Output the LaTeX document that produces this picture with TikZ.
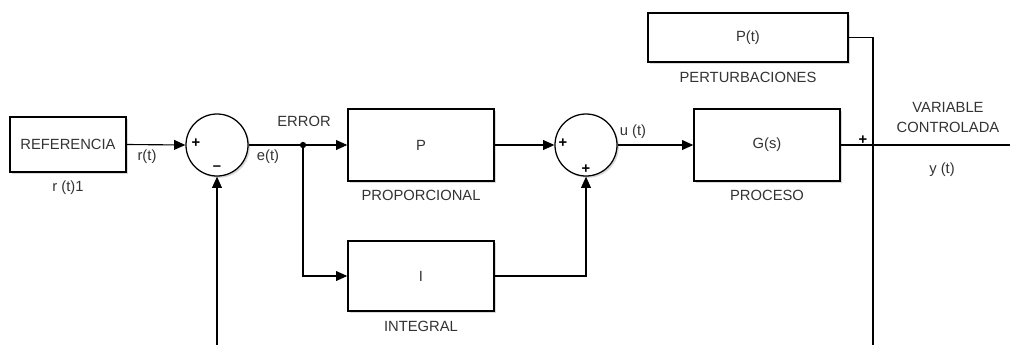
\documentclass[tikz,border=0pt]{standalone}
\usepackage{fontspec}
\setmainfont{Liberation Sans}
\usetikzlibrary{arrows.meta,shadows}

\begin{document}
\begin{tikzpicture}[x=0.025cm, y=0.025cm, >={Triangle[length=8pt,width=7pt]}, line join=miter]

% --- Global TikZ Styles ---
\tikzset{
    block/.style={
        draw=black,
        line width=1pt,
        fill=white,
        inner sep=0pt,
        text=black!80,
        font=\fontsize{10.5}{12}\selectfont,
        drop shadow={shadow xshift=1.3pt, shadow yshift=-1.3pt, opacity=0.3}
    },
    sumjunction/.style={
        circle,
        draw=black,
        line width=0.9pt,
        fill=white,
        minimum size=1.55cm,
        inner sep=0pt,
        drop shadow={shadow xshift=1.3pt, shadow yshift=-1.3pt, opacity=0.3}
    },
    signal/.style={
        ->,
        line width=0.8pt,
        draw=black
    },
    wire/.style={
        line width=0.8pt,
        draw=black
    },
    caption/.style={
        text=black!80,
        inner sep=0pt,
        font=\fontsize{10.5}{12}\selectfont
    },
    sign/.style={
        text=black,
        inner sep=0pt,
        font=\fontsize{10.5}{12}\selectfont\bfseries
    },
    branchpoint/.style={
        circle,
        fill=black,
        inner sep=0pt,
        minimum size=4.5pt
    }
}

\useasboundingbox (0,0) rectangle (1010,345);

% --- Blocks ---
\node[block, minimum width=2.9cm, minimum height=1.375cm] (ref) at (68,200.5) {REFERENCIA};
\node[sumjunction] (sumerr) at (217,200) {};
\node[block, minimum width=3.65cm, minimum height=1.8cm] (prop) at (421,200) {P};
\node[block, minimum width=3.65cm, minimum height=1.75cm] (integ) at (421,69) {I};
\node[sumjunction] (sumpi) at (586,200) {};
\node[block, minimum width=3.65cm, minimum height=1.8cm] (plant) at (767,200) {G(s)};
\node[block, minimum width=5cm, minimum height=1.225cm] (dist) at (748,307.5) {P(t)};

% --- Hulppunten ---
\node[branchpoint] (branch) at (303,200) {};
\coordinate (fbstart) at (217,0);
\coordinate (out) at (1010,200);
\coordinate (distend) at (873,0);

% --- Connectors ---
\draw[signal] (ref.east) -- (sumerr.west);
\draw[wire] (sumerr.east) -- (branch);
\draw[signal] (branch) -- (prop.west);
\draw[signal] (branch) |- (integ.west);
\draw[signal] (prop.east) -- (sumpi.west);
\draw[signal] (integ.east) -| (sumpi.south);
\draw[signal] (sumpi.east) -- (plant.west);
\draw[wire] (plant.east) -- (out);
\draw[wire] (dist.east) -| (distend);
\draw[signal] (fbstart) -- (sumerr.south);

% --- Signs ---
\node[sign] at (196,202) {+};
\node[sign] at (217,177) {\textendash};
\node[sign] at (563,202) {+};
\node[sign] at (586,176) {+};
\node[sign] at (863,205) {+};

% --- Labels ---
\node[caption] at (68,157) {r (t)1};
\node[caption] at (147,188) {r(t)};
\node[caption] at (268,188) {e(t)};
\node[caption] at (304,224) {ERROR};
\node[caption] at (421,150) {PROPORCIONAL};
\node[caption] at (421,19) {INTEGRAL};
\node[caption] at (633,213) {u (t)};
\node[caption] at (767,150) {PROCESO};
\node[caption] at (748,268) {PERTURBACIONES};
\node[caption] at (948,238) {VARIABLE};
\node[caption] at (948,218) {CONTROLADA};
\node[caption] at (942,175) {y (t)};

\end{tikzpicture}
\end{document}
